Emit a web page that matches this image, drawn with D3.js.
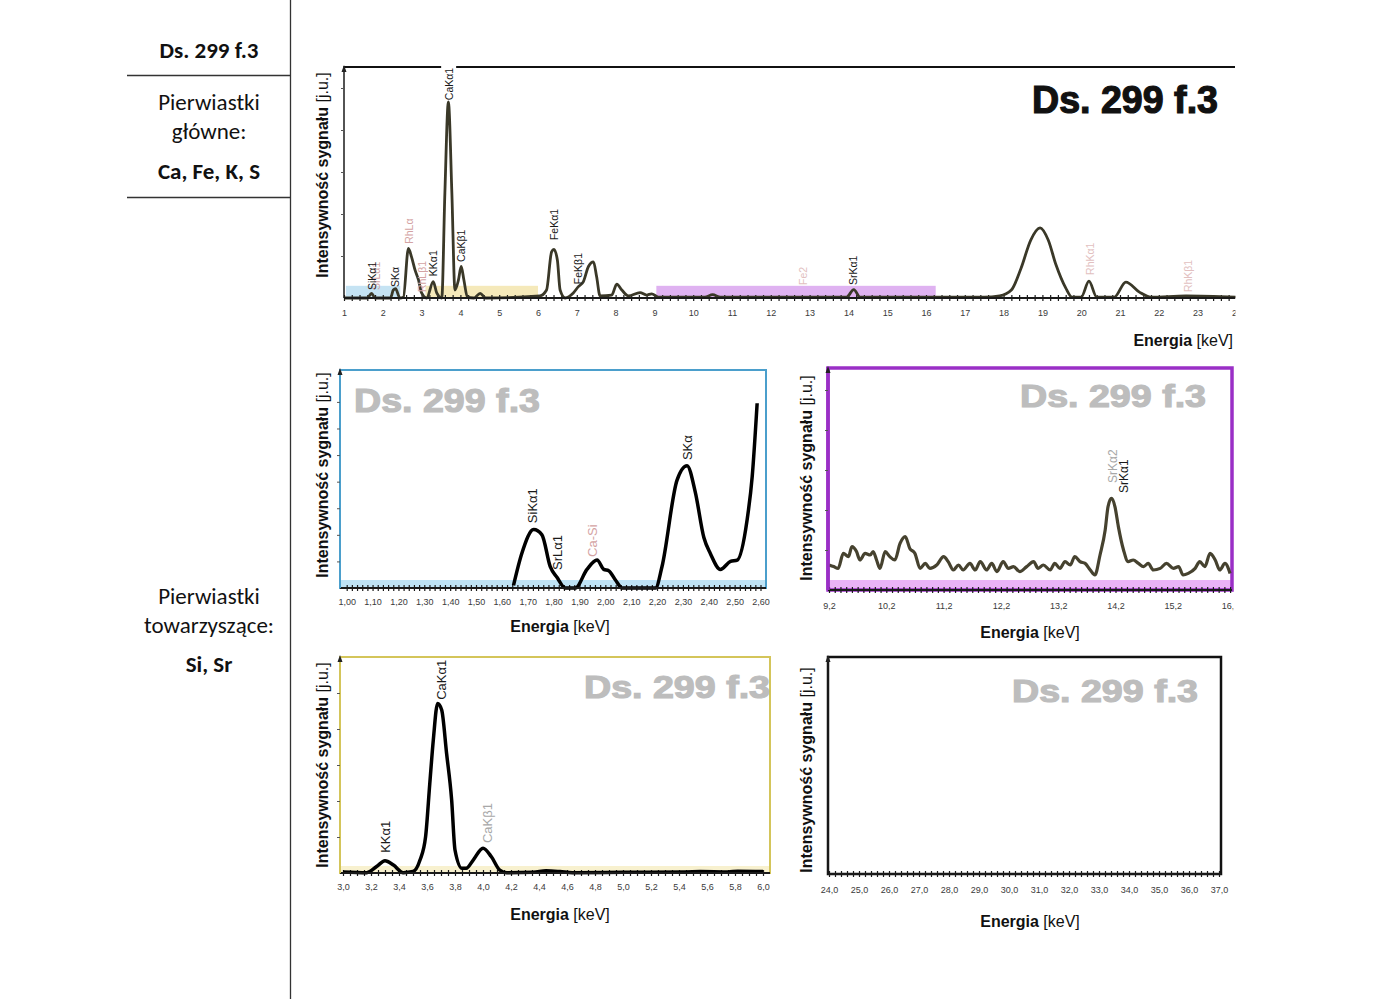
<!DOCTYPE html>
<html><head><meta charset="utf-8">
<script src="https://cdn.jsdelivr.net/npm/d3@7/dist/d3.min.js"></script>
<style>body{margin:0;background:#fff} svg{display:block}</style>
</head><body>
<svg id="c" width="1400" height="999"></svg>
<script>
// ================= DATA =================
const sampleName = "Ds. 299 f.3";
const mainLabel = ["Pierwiastki", "główne:"];
const mainElements = "Ca, Fe, K, S";
const accLabel = ["Pierwiastki", "towarzyszące:"];
const accElements = "Si, Sr";
const xTitleBold = "Energia";
const xTitleUnit = " [keV]";
const yTitleBold = "Intensywność sygnału";
const yTitleUnit = " [j.u.]";

// overview spectrum [keV, intensity j.u.]
const overviewSpectrum = [[1.0,0],[1.6,0],[1.71,0.11],[1.8,0],[2.2,0],[2.27,0.19],[2.33,0.22],[2.44,0],[2.53,0.02],
 [2.66,1.18],[2.74,0.98],[2.83,0.67],[2.92,0.43],[3.0,0.12],[3.13,0],[3.3,0.39],[3.39,0.12],[3.52,0],
 [3.6,2.5],[3.69,4.67],[3.78,2.5],[3.86,0.19],[3.95,0.43],[4.02,0.75],[4.09,0.43],[4.18,0.02],[4.35,0],
 [4.51,0.11],[4.65,0],[6.05,0.05],[6.22,0.19],[6.35,1.1],[6.41,1.16],[6.5,0.9],[6.57,0.19],[6.7,0],
 [6.91,0.12],[7.04,0.27],[7.17,0.39],[7.3,0.75],[7.43,0.86],[7.51,0.51],[7.6,0.05],[7.9,0.07],[8.03,0.33],
 [8.16,0.19],[8.33,0.05],[8.63,0.13],[8.8,0.07],[8.93,0.1],[9.1,0.02],[10.3,0.02],[10.5,0.08],[10.7,0.02],
 [13.95,0.02],[14.14,0.2],[14.3,0.02],[17.5,0.02],[17.9,0.05],[18.2,0.19],[18.45,0.71],[18.7,1.38],
 [18.94,1.67],[19.15,1.38],[19.35,0.79],[19.6,0.24],[19.76,0.02],[20.0,0.02],[20.2,0.4],[20.4,0.02],
 [20.85,0.02],[21.15,0.38],[21.5,0.14],[21.8,0.02],[22.7,0.05],[24.0,0.02]];
const overviewTicks = d3.range(1, 25);
// zoom windows marked on the overview [from keV, to keV]
const zoomWindows = [[1.05, 2.45], [3.1, 6.0], [9.05, 16.25]];
// peak labels [text, keV, level j.u., kind]
const overviewLabels = [["SrLα1",1.82,0.19,"rh"],["SiKα1",1.72,0.19,"el"],["SKα",2.31,0.26,"el"],["RhLα",2.68,1.29,"rh"],
 ["RhLβ1",3.01,0.14,"rh"],["KKα1",3.29,0.52,"el"],["CaKα1",3.71,4.71,"el"],["CaKβ1",4.02,0.86,"el"],
 ["FeKα1",6.41,1.38,"el"],["FeKβ1",7.03,0.33,"el"],["Fe2",12.83,0.31,"rhf"],["SrKα1",14.12,0.31,"el"],
 ["RhKα1",20.23,0.55,"rhf"],["RhKβ1",22.75,0.14,"rhf"]];

// zoom 1.0 - 2.6 keV
const siSpectrum = [[1.645,0.1],[1.677,1.3],[1.723,2.2],[1.755,2.0],[1.787,0.8],[1.813,0.4],[1.845,0],[1.884,0],
 [1.929,0.7],[1.968,1.05],[1.994,0.7],[2.013,0.65],[2.039,0.3],[2.065,0],[2.194,0],[2.219,0.8],[2.277,4.05],
 [2.316,4.6],[2.348,3.6],[2.381,1.9],[2.406,1.3],[2.445,0.7],[2.484,1.0],[2.51,1.05],[2.548,2.55],[2.568,4.2],[2.587,6.95]];
const siTicks = d3.range(17).map(i => 1.0 + i * 0.1);
const siLabels = [["SiKα1",1.72,2.44,"el"],["SrLα1",1.817,0.68,"el"],["Ca-Si",1.952,1.17,"rh"],["SKα",2.316,4.81,"el"]];

// zoom 9.2 - 16.2 keV
const srSpectrum = [[9.2,12.5],[9.28,11.7],[9.36,10.8],[9.45,18.3],[9.54,16.7],[9.6,21.7],[9.68,19.2],[9.74,15],
 [9.83,18.3],[9.92,17.5],[9.97,19.2],[10.03,15],[10.09,10.8],[10.18,19.2],[10.26,16.7],[10.35,15],[10.44,23.3],
 [10.53,26.7],[10.61,20.8],[10.7,18.3],[10.79,10.8],[10.88,13.3],[10.96,10.8],[11.08,12.5],[11.2,16.7],
 [11.28,14.2],[11.37,10],[11.46,12.5],[11.54,10],[11.66,13.3],[11.75,10],[11.84,14.2],[11.95,10],[12.04,13.3],
 [12.13,9.2],[12.24,14.2],[12.33,10.8],[12.42,11.7],[12.53,9.2],[12.65,11.7],[12.77,14.2],[12.85,10.8],
 [12.94,12.5],[13.06,10],[13.14,13.3],[13.23,10.8],[13.32,14.2],[13.41,12.5],[13.49,16.7],[13.58,14.2],
 [13.67,13.3],[13.76,10],[13.84,7.5],[13.93,17.5],[14.02,30],[14.07,41.7],[14.13,45.8],[14.19,41.7],
 [14.25,31.7],[14.34,20],[14.42,14.2],[14.51,15],[14.6,13.3],[14.69,11.7],[14.77,13.3],[14.86,10],
 [14.98,10.8],[15.09,13.3],[15.21,10.8],[15.3,11.7],[15.38,7.5],[15.47,8.3],[15.59,10.8],[15.67,14.2],
 [15.76,11.7],[15.85,18.3],[15.94,15],[16.02,10],[16.11,13.3],[16.2,8.3]];
const srTicks = d3.range(8).map(i => 9.2 + i);
const srLabels = [["SrKα2",14.16,53.5,"lg"],["SrKα1",14.35,48.5,"el"]];

// zoom 3.0 - 6.0 keV
const caSpectrum = [[3.0,0.03],[3.17,0.01],[3.24,0.18],[3.3,0.34],[3.36,0.22],[3.43,0.01],[3.5,0.04],[3.55,0.36],
 [3.59,1.01],[3.62,2.49],[3.645,3.69],[3.676,4.71],[3.705,4.53],[3.74,3.32],[3.776,2.03],[3.8,0.64],[3.85,0.13],
 [3.88,0.13],[3.93,0.36],[4.0,0.69],[4.06,0.45],[4.12,0.08],[4.17,0.01],[4.36,0.02],[4.45,0.06],[4.55,0.04],
 [4.64,0.01],[5.0,0.02],[5.45,0.03],[5.55,0.04],[5.75,0.03],[5.82,0.05],[6.0,0.04]];
const caTicks = d3.range(16).map(i => 3.0 + i * 0.2);
const caLabels = [["KKα1",3.30,0.56,"el"],["CaKα1",3.70,4.81,"el"],["CaKβ1",4.03,0.83,"lg"]];

// zoom 24 - 37 keV (empty)
const hiSpectrum = [];
const hiTicks = d3.range(24, 38);
const hiLabels = [];

// ================= DRAWING =================
const svg = d3.select('#c');
const FONT = "'Liberation Sans', Arial, sans-serif";
const TFONT = "Carlito, Lato, 'Open Sans', sans-serif";
const labelColors = {el:"#1a1a1a", rh:"#d4a3a3", rhf:"#e2c0c0", lg:"#a8a8a8"};

// ---- left info table ----
const info = svg.append('g').attr('font-family', TFONT).attr('fill', '#111').attr('text-anchor', 'middle');
svg.append('line').attr('x1', 290.5).attr('x2', 290.5).attr('y1', 0).attr('y2', 999).attr('stroke', '#333').attr('stroke-width', 1.3);
[75.5, 197.5].forEach(yy => svg.append('line').attr('x1', 127).attr('x2', 290).attr('y1', yy).attr('y2', yy).attr('stroke', '#333').attr('stroke-width', 1.3));
const TS = 23;
info.append('text').attr('x', 209).attr('y', 58).attr('font-size', TS).attr('font-weight', 'bold').text(sampleName);
info.append('text').attr('x', 209).attr('y', 110).attr('font-size', TS).text(mainLabel[0]);
info.append('text').attr('x', 209).attr('y', 139).attr('font-size', TS).text(mainLabel[1]);
info.append('text').attr('x', 209).attr('y', 179).attr('font-size', TS).attr('font-weight', 'bold').text(mainElements);
info.append('text').attr('x', 209).attr('y', 604).attr('font-size', TS).text(accLabel[0]);
info.append('text').attr('x', 209).attr('y', 633).attr('font-size', TS).text(accLabel[1]);
info.append('text').attr('x', 209).attr('y', 672).attr('font-size', TS).attr('font-weight', 'bold').text(accElements);

let clipId = 0;
function drawPanel(p) {
  const g = svg.append('g');
  const x = d3.scaleLinear().domain(p.xDomain).range(p.xRange);
  const y = d3.scaleLinear().domain(p.yDomain).range([p.y1, p.y0]);
  const cid = 'clip' + (clipId++);
  svg.append('clipPath').attr('id', cid).attr('clipPathUnits', 'userSpaceOnUse').append('rect')
    .attr('x', p.x0 - 40).attr('y', p.y0 - 10).attr('width', p.clipRight - p.x0 + 40).attr('height', p.y1 - p.y0 + 60);

  // bottom band
  if (p.bandColor) {
    g.append('rect').attr('x', p.x0).attr('y', p.y1 - p.bandH).attr('width', p.x1 - p.x0).attr('height', p.bandH)
      .attr('fill', p.bandColor);
  }
  // frame
  if (p.frameColor) {
    g.append('rect').attr('x', p.x0).attr('y', p.y0).attr('width', p.x1 - p.x0).attr('height', p.y1 - p.y0)
      .attr('fill', 'none').attr('stroke', p.frameColor).attr('stroke-width', p.frameWidth);
  }
  if (p.extra) p.extra(g, x, y);

  const clipped = g.append('g').attr('clip-path', `url(#${cid})`);

  // x minor ticks crossing baseline
  const minor = d3.range(Math.round((p.xDomain[1] - p.xDomain[0]) / p.minorStep) + 1).map(i => p.xDomain[0] + i * p.minorStep);
  const gm = clipped.append('g').attr('transform', `translate(0,${p.y1 - 3})`)
    .call(d3.axisBottom(x).tickValues(minor).tickSize(6).tickFormat(''));
  gm.select('.domain').remove();
  gm.selectAll('line').attr('stroke', '#1a1a1a').attr('stroke-width', 1.2);
  g.append('line').attr('x1', p.x0).attr('x2', p.x1).attr('y1', p.y1).attr('y2', p.y1)
    .attr('stroke', '#1a1a1a').attr('stroke-width', 2);

  // x tick labels
  const gl = clipped.append('g').attr('transform', `translate(0,${p.y1})`)
    .call(d3.axisBottom(x).tickValues(p.ticks).tickSize(0).tickPadding(p.labelPad).tickFormat(p.fmt));
  gl.select('.domain').remove();
  gl.selectAll('text').attr('font-family', FONT).attr('font-size', p.tickFont).attr('fill', '#3a3a3a');

  // y axis: line, ticks, arrow
  g.append('line').attr('x1', p.x0).attr('x2', p.x0).attr('y1', p.y1).attr('y2', p.y0 - 1)
    .attr('stroke', p.yAxisColor || '#1a1a1a').attr('stroke-width', p.yAxisWidth || 1.5);
  const gy = g.append('g').attr('transform', `translate(${p.x0},0)`)
    .call(d3.axisLeft(y).tickValues(p.yTicks).tickSize(3).tickFormat(''));
  gy.select('.domain').remove();
  gy.selectAll('line').attr('stroke', '#555').attr('stroke-width', 1);
  g.append('path').attr('d', `M${p.x0 - 2.5},${p.y0 + 5}L${p.x0},${p.y0 - 2}L${p.x0 + 2.5},${p.y0 + 5}Z`).attr('fill', '#222');

  // spectrum line
  if (p.data.length) {
    const line = d3.line().x(d => x(d[0])).y(d => y(d[1])).curve(d3.curveMonotoneX);
    clipped.append('path').datum(p.data).attr('d', line).attr('fill', 'none')
      .attr('stroke', p.lineColor).attr('stroke-width', p.lineWidth).attr('stroke-linejoin', 'round');
  }

  // peak labels (vertical, reading upward)
  p.labels.forEach(l => {
    g.append('text').attr('transform', `translate(${x(l[1])},${y(l[2])}) rotate(-90)`)
      .attr('dominant-baseline', 'central').attr('font-family', FONT).attr('font-size', p.labelFont)
      .attr('fill', labelColors[l[3]]).text(l[0]);
  });

  // watermark
  const wm = p.wm;
  g.append('text').attr('x', wm.x).attr('y', wm.y).attr('font-family', FONT).attr('font-weight', 900)
    .attr('font-size', wm.size).attr('textLength', wm.len).attr('lengthAdjust', 'spacingAndGlyphs')
    .attr('fill', wm.color).attr('stroke', wm.color).attr('stroke-width', 1.2).text(sampleName);

  // axis titles
  const xt = g.append('text').attr('x', p.xt[0]).attr('y', p.xt[1]).attr('text-anchor', p.xtAnchor || 'middle')
    .attr('font-family', FONT).attr('font-size', 16).attr('fill', '#111');
  xt.append('tspan').attr('font-weight', 'bold').text(xTitleBold);
  xt.append('tspan').text(xTitleUnit);
  const yt = g.append('text').attr('transform', `translate(${p.yt[0]},${p.yt[1]}) rotate(-90)`)
    .attr('text-anchor', 'middle').attr('dominant-baseline', 'central')
    .attr('font-family', FONT).attr('font-size', 16).attr('fill', '#111');
  yt.append('tspan').attr('font-weight', 'bold').text(yTitleBold);
  yt.append('tspan').text(yTitleUnit);
  return {x, y};
}

const intFmt = d => String(d);
const comma = n => d => d.toFixed(n).replace('.', ',');

// overview
drawPanel({
  x0: 344, y0: 67, x1: 1235, y1: 298, clipRight: 1235.5, xDomain: [1, 24], xRange: [344, 344 + 23 * 38.8],
  yDomain: [0, 5.5], yTicks: [1, 2, 3, 4, 5], data: overviewSpectrum, lineColor: '#3a3828', lineWidth: 2.8,
  minorStep: 0.2, ticks: overviewTicks, fmt: intFmt, labelPad: 12, tickFont: 9, labels: overviewLabels, labelFont: 10.5,
  wm: {x: 1032, y: 113, size: 38, len: 186, color: '#111'},
  xt: [1233, 346], xtAnchor: 'end', yt: [322, 175],
  extra: (g, x, y) => {
    const colors = ['#bfe0f2', '#f4e7b2', '#dcaaf0'];
    zoomWindows.forEach((w, i) => g.append('rect').attr('x', x(w[0])).attr('width', x(w[1]) - x(w[0]))
      .attr('y', y(0.29)).attr('height', y(0) - y(0.29)).attr('fill', colors[i]).attr('opacity', 0.9));
    const gap = x(3.71);
    g.append('line').attr('x1', 344).attr('x2', gap - 8).attr('y1', 67).attr('y2', 67).attr('stroke', '#111').attr('stroke-width', 2);
    g.append('line').attr('x1', gap + 7).attr('x2', 1235).attr('y1', 67).attr('y2', 67).attr('stroke', '#111').attr('stroke-width', 2);
  }
});

// Si / S zoom (blue)
drawPanel({
  x0: 340, y0: 370, x1: 766, y1: 588, clipRight: 800, xDomain: [1.0, 2.6], xRange: [346.7, 760.5],
  yDomain: [0, 8.2], yTicks: [1, 2, 3, 4, 5, 6, 7], data: siSpectrum, lineColor: '#000', lineWidth: 3.5,
  minorStep: 0.02, ticks: siTicks, fmt: comma(2), labelPad: 11, tickFont: 9, labels: siLabels, labelFont: 13,
  frameColor: '#4b9fcc', frameWidth: 2, bandColor: '#bfe3f5', bandH: 8, yAxisColor: '#4b9fcc', yAxisWidth: 2,
  wm: {x: 354, y: 412, size: 34, len: 186, color: '#bdbdbd'},
  xt: [560, 632], yt: [322, 475]
});

// Sr zoom (purple)
drawPanel({
  x0: 828, y0: 368, x1: 1232, y1: 590, clipRight: 1233.5, xDomain: [9.2, 16.3], xRange: [829, 829 + 7.1 * 57.3],
  yDomain: [0, 111], yTicks: [20, 40, 60, 80, 100], data: srSpectrum, lineColor: '#46422f', lineWidth: 3.2,
  minorStep: 0.1, ticks: srTicks, fmt: comma(1), labelPad: 13, tickFont: 9, labels: srLabels, labelFont: 12,
  frameColor: '#9a2fc6', frameWidth: 3.5, bandColor: '#eab3f6', bandH: 10, yAxisColor: '#9a2fc6', yAxisWidth: 3.5,
  wm: {x: 1020, y: 407, size: 32, len: 186, color: '#bdbdbd'},
  xt: [1030, 638], yt: [806, 478]
});

// Ca / K zoom (yellow)
drawPanel({
  x0: 340, y0: 657, x1: 770, y1: 873, clipRight: 800, xDomain: [3.0, 6.0], xRange: [343, 763],
  yDomain: [0, 6], yTicks: [1, 2, 3, 4, 5], data: caSpectrum, lineColor: '#000', lineWidth: 3.5,
  minorStep: 0.05, ticks: caTicks, fmt: comma(1), labelPad: 11, tickFont: 9, labels: caLabels, labelFont: 13,
  frameColor: '#d4c55a', frameWidth: 2, bandColor: '#f8f1cf', bandH: 7, yAxisColor: '#d4c55a', yAxisWidth: 2,
  wm: {x: 584, y: 698, size: 32, len: 186, color: '#bdbdbd'},
  xt: [560, 920], yt: [322, 765]
});

// high energy zoom (black, empty)
drawPanel({
  x0: 828, y0: 657, x1: 1221, y1: 874, clipRight: 1260, xDomain: [24, 37], xRange: [829, 1219],
  yDomain: [0, 6], yTicks: [], data: hiSpectrum, lineColor: '#000', lineWidth: 3,
  minorStep: 0.2, ticks: hiTicks, fmt: comma(1), labelPad: 13, tickFont: 9, labels: hiLabels, labelFont: 13,
  frameColor: '#111', frameWidth: 2.5,
  wm: {x: 1012, y: 702, size: 32, len: 186, color: '#bdbdbd'},
  xt: [1030, 927], yt: [806, 770]
});
</script>
</body></html>
